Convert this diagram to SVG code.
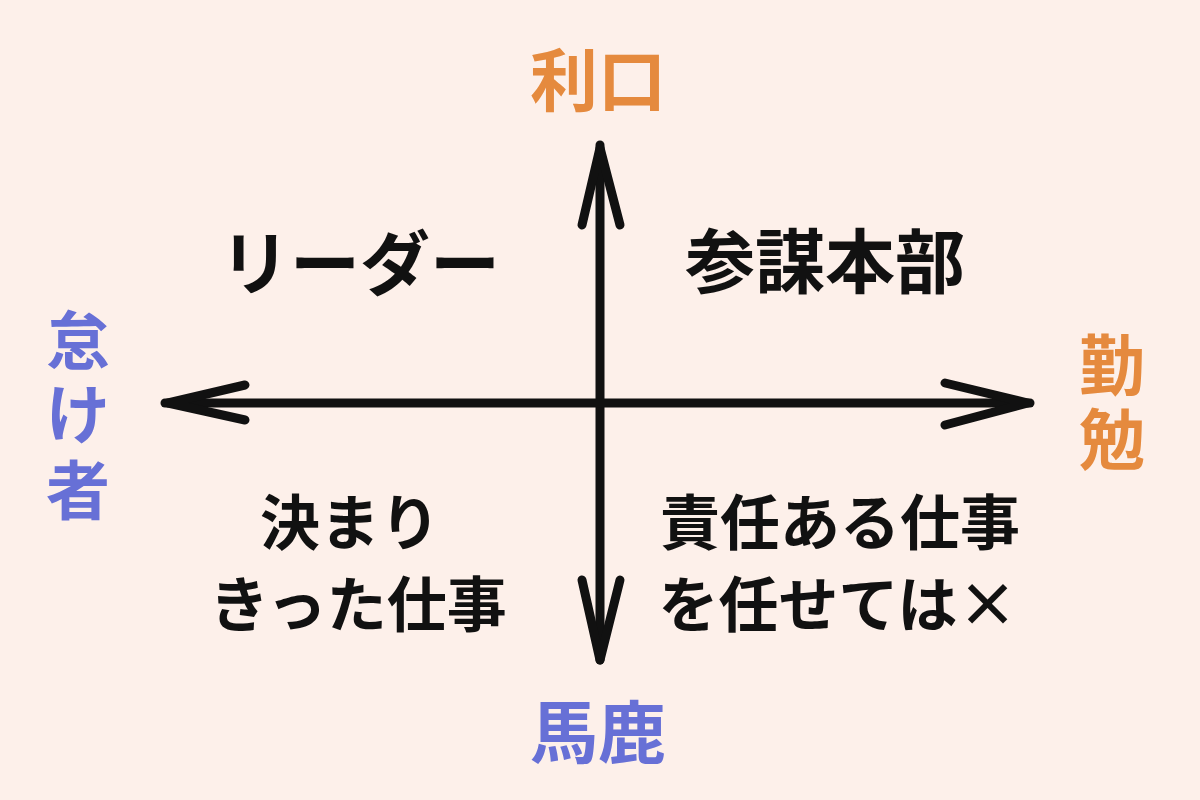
<svg xmlns="http://www.w3.org/2000/svg" width="1200" height="800" viewBox="0 0 1200 800">
<style>
text{font-family:"Noto Sans CJK JP",sans-serif;font-weight:700;text-anchor:middle}
.o{fill:#E58A3E}
.b{fill:#6770D6}
.k{fill:#111;font-size:60px}
.ax{stroke:#111;stroke-width:9;fill:none;stroke-linecap:round;stroke-linejoin:round}
</style>
<rect width="1200" height="800" fill="#FDF0EA"/>
<g id="connectors">
<path class="ax" d="M600 145 V660"/>
<path class="ax" d="M165 403 H1030"/>
<path class="ax" d="M582 225 L600 148 L620 225"/>
<path class="ax" d="M582 580 L600 660 L620 580"/>
<path class="ax" d="M245 385 L168 403 L245 420"/>
<path class="ax" d="M945 383 L1028 403 L945 425"/>
</g>
<g id="top"><text class="o" x="598" y="106" style="font-size:68px">利口</text></g>
<g id="bottom"><text class="b" x="598" y="758" style="font-size:68px">馬鹿</text></g>
<g id="left" style="font-size:64px"><text class="b" x="78" y="364">怠</text><text class="b" x="78" y="438">け</text><text class="b" x="78" y="514">者</text></g>
<g id="right" style="font-size:66px"><text class="o" x="1112" y="390">勤</text><text class="o" x="1112" y="464">勉</text></g>
<g id="q1"><text class="k" x="360" y="290" style="font-size:70px">リーダー</text></g>
<g id="q2"><text class="k" x="825" y="288" style="font-size:70px">参謀本部</text></g>
<g id="q3"><text class="k" x="350" y="545">決まり</text><text class="k" x="358" y="627">きった仕事</text></g>
<g id="q4"><text class="k" x="840" y="545">責任ある仕事</text><text class="k" x="838" y="627">を任せては×</text></g>
</svg>
